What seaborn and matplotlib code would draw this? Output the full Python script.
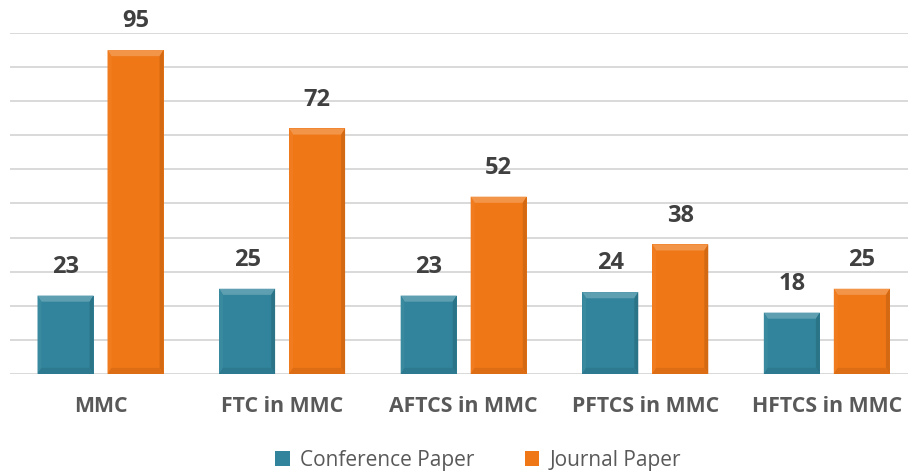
import matplotlib
matplotlib.use("Agg")
import matplotlib.pyplot as plt
from matplotlib.patches import Polygon
import seaborn as sns
import pandas as pd

categories = ["MMC", "FTC in MMC", "AFTCS in MMC", "PFTCS in MMC", "HFTCS in MMC"]
conference = [23, 25, 23, 24, 18]
journal = [95, 72, 52, 38, 25]
series_names = ["Conference Paper", "Journal Paper"]
colors = ["#31849B", "#F07716"]

df = pd.DataFrame({
    "category": categories * 2,
    "count": conference + journal,
    "type": [series_names[0]] * len(categories) + [series_names[1]] * len(categories),
})

sns.set_theme(style="white")
plt.rcParams["font.family"] = ["Open Sans", "DejaVu Sans"]

fig = plt.figure(figsize=(9.08, 4.71), dpi=100)
ax = fig.add_axes([0.0107, 0.206, 0.9999, 0.724])

sns.barplot(data=df, x="category", y="count", hue="type", palette=colors,
            saturation=1, width=0.771, gap=0.2, ax=ax, legend=True,
            edgecolor="none", linewidth=0, zorder=3)

ax.set_ylim(0, 100)
ax.set_xlim(-0.5, len(categories) - 0.5)
ax.set_yticks(range(0, 101, 10))
ax.yaxis.grid(True, color="#d9d9d9", linewidth=1.4, zorder=0)
ax.set_axisbelow(True)
ax.tick_params(axis="y", left=False, labelleft=False)
ax.tick_params(axis="x", bottom=False, pad=10)
for s in ax.spines.values():
    s.set_visible(False)
ax.set_xlabel("")
ax.set_ylabel("")
for t in ax.get_xticklabels():
    t.set_fontsize(15.3)
    t.set_fontweight("bold")
    t.set_color("#595959")

# Beveled edges and value labels on each bar
def shade(c, f):
    r, g, b = matplotlib.colors.to_rgb(c)
    if f > 0:
        return (r + (1 - r) * f, g + (1 - g) * f, b + (1 - b) * f)
    return (r * (1 + f), g * (1 + f), b * (1 + f))

bev_h = 1.8
for cont, col in zip(ax.containers, colors):
    for bar in cont:
        x, y = bar.get_x(), bar.get_y()
        w, h = bar.get_width(), bar.get_height()
        bw = w * 0.07
        top = y + h
        ax.add_patch(Polygon([(x, top), (x + w, top), (x + w - bw, top - bev_h), (x + bw, top - bev_h)],
                             closed=True, facecolor=shade(col, 0.22), edgecolor="none", zorder=4))
        ax.add_patch(Polygon([(x + w, top), (x + w, y), (x + w - bw, y + bev_h), (x + w - bw, top - bev_h)],
                             closed=True, facecolor=shade(col, -0.12), edgecolor="none", zorder=4))
        ax.add_patch(Polygon([(x, top), (x, y), (x + bw, y + bev_h), (x + bw, top - bev_h)],
                             closed=True, facecolor=shade(col, 0.04), edgecolor="none", zorder=4))
        ax.add_patch(Polygon([(x, y), (x + w, y), (x + w - bw, y + bev_h), (x + bw, y + bev_h)],
                             closed=True, facecolor=shade(col, -0.08), edgecolor="none", zorder=4))
    ax.bar_label(cont, padding=12, fontsize=17, fontweight="bold", color="#404040")

handles, labels = ax.get_legend_handles_labels()
ax.legend(handles, labels, loc="center", bbox_to_anchor=(0.516, -0.253), ncol=2,
          frameon=False, fontsize=15, handlelength=0.7, handleheight=0.7,
          handletextpad=0.5, columnspacing=2.4, labelcolor="#595959")

fig.savefig("out.png", dpi=100, facecolor="white")
